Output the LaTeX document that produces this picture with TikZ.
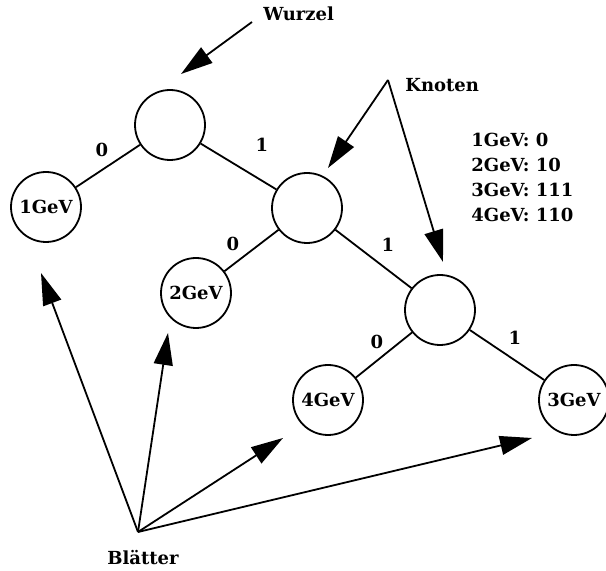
\documentclass[tikz,border=0pt]{standalone}
\usepackage{fontspec}
\setmainfont{DejaVu Serif}
\usetikzlibrary{arrows.meta}
\begin{document}
\begin{tikzpicture}[x=0.5pt,y=-0.5pt,
  every node/.style={font=\bfseries\fontsize{9}{11}\selectfont},
  knot/.style={circle,draw,line width=0.9pt,minimum size=35pt,inner sep=0pt},
  branch/.style={line width=0.9pt},
  bit/.style={anchor=base,inner sep=0pt},
  pointer/.style={line width=0.9pt,-{Triangle[length=16pt,width=9.5pt]}},
  caption/.style={anchor=base west,inner sep=0pt}]
\useasboundingbox (0,0) rectangle (606,571);

% tree nodes
\node[knot] (root) at (170,125) {};
\node[knot] (g1)   at (46,207)  {1GeV};
\node[knot] (n2)   at (307,208) {};
\node[knot] (g2)   at (196,293) {2GeV};
\node[knot] (n3)   at (440,310) {};
\node[knot] (g4)   at (328,400) {4GeV};
\node[knot] (g3)   at (574,400) {3GeV};

% branches
\draw[branch] (root) -- (g1);
\draw[branch] (root) -- (n2);
\draw[branch] (n2) -- (g2);
\draw[branch] (n2) -- (n3);
\draw[branch] (n3) -- (g4);
\draw[branch] (n3) -- (g3);

% branch bits
\node[bit] (b1) at (102,157) {0};
\node[bit] (b2) at (262,152) {1};
\node[bit] (b3) at (233,251) {0};
\node[bit] (b4) at (388,252) {1};
\node[bit] (b5) at (377,349) {0};
\node[bit] (b6) at (515,345) {1};

% code table
\node[caption] (c1) at (471,147) {1GeV: 0};
\node[caption] (c2) at (471,172) {2GeV: 10};
\node[caption] (c3) at (471,197) {3GeV: 111};
\node[caption] (c4) at (471,222) {4GeV: 110};

% Wurzel
\node[caption] (wurzel) at (263,21) {Wurzel};
\coordinate (wtail) at (252,22);
\coordinate (wtip) at (181,74);
\draw[pointer] (wtail) -- (wtip);

% Knoten
\node[caption] (knoten) at (405,92) {Knoten};
\coordinate (ktail) at (388,80);
\coordinate (ktipA) at (328,168);
\coordinate (ktipB) at (443,262);
\draw[pointer] (ktail) -- (ktipA);
\draw[pointer] (ktail) -- (ktipB);

% Blaetter
\node[caption] (blaetter) at (107,565) {Blätter};
\coordinate (btail) at (138,532);
\coordinate (btip1) at (41,273);
\coordinate (btip2) at (168,333);
\coordinate (btip4) at (283,438);
\coordinate (btip3) at (532,438);
\draw[pointer] (btail) -- (btip1);
\draw[pointer] (btail) -- (btip2);
\draw[pointer] (btail) -- (btip4);
\draw[pointer] (btail) -- (btip3);
\end{tikzpicture}
\end{document}
